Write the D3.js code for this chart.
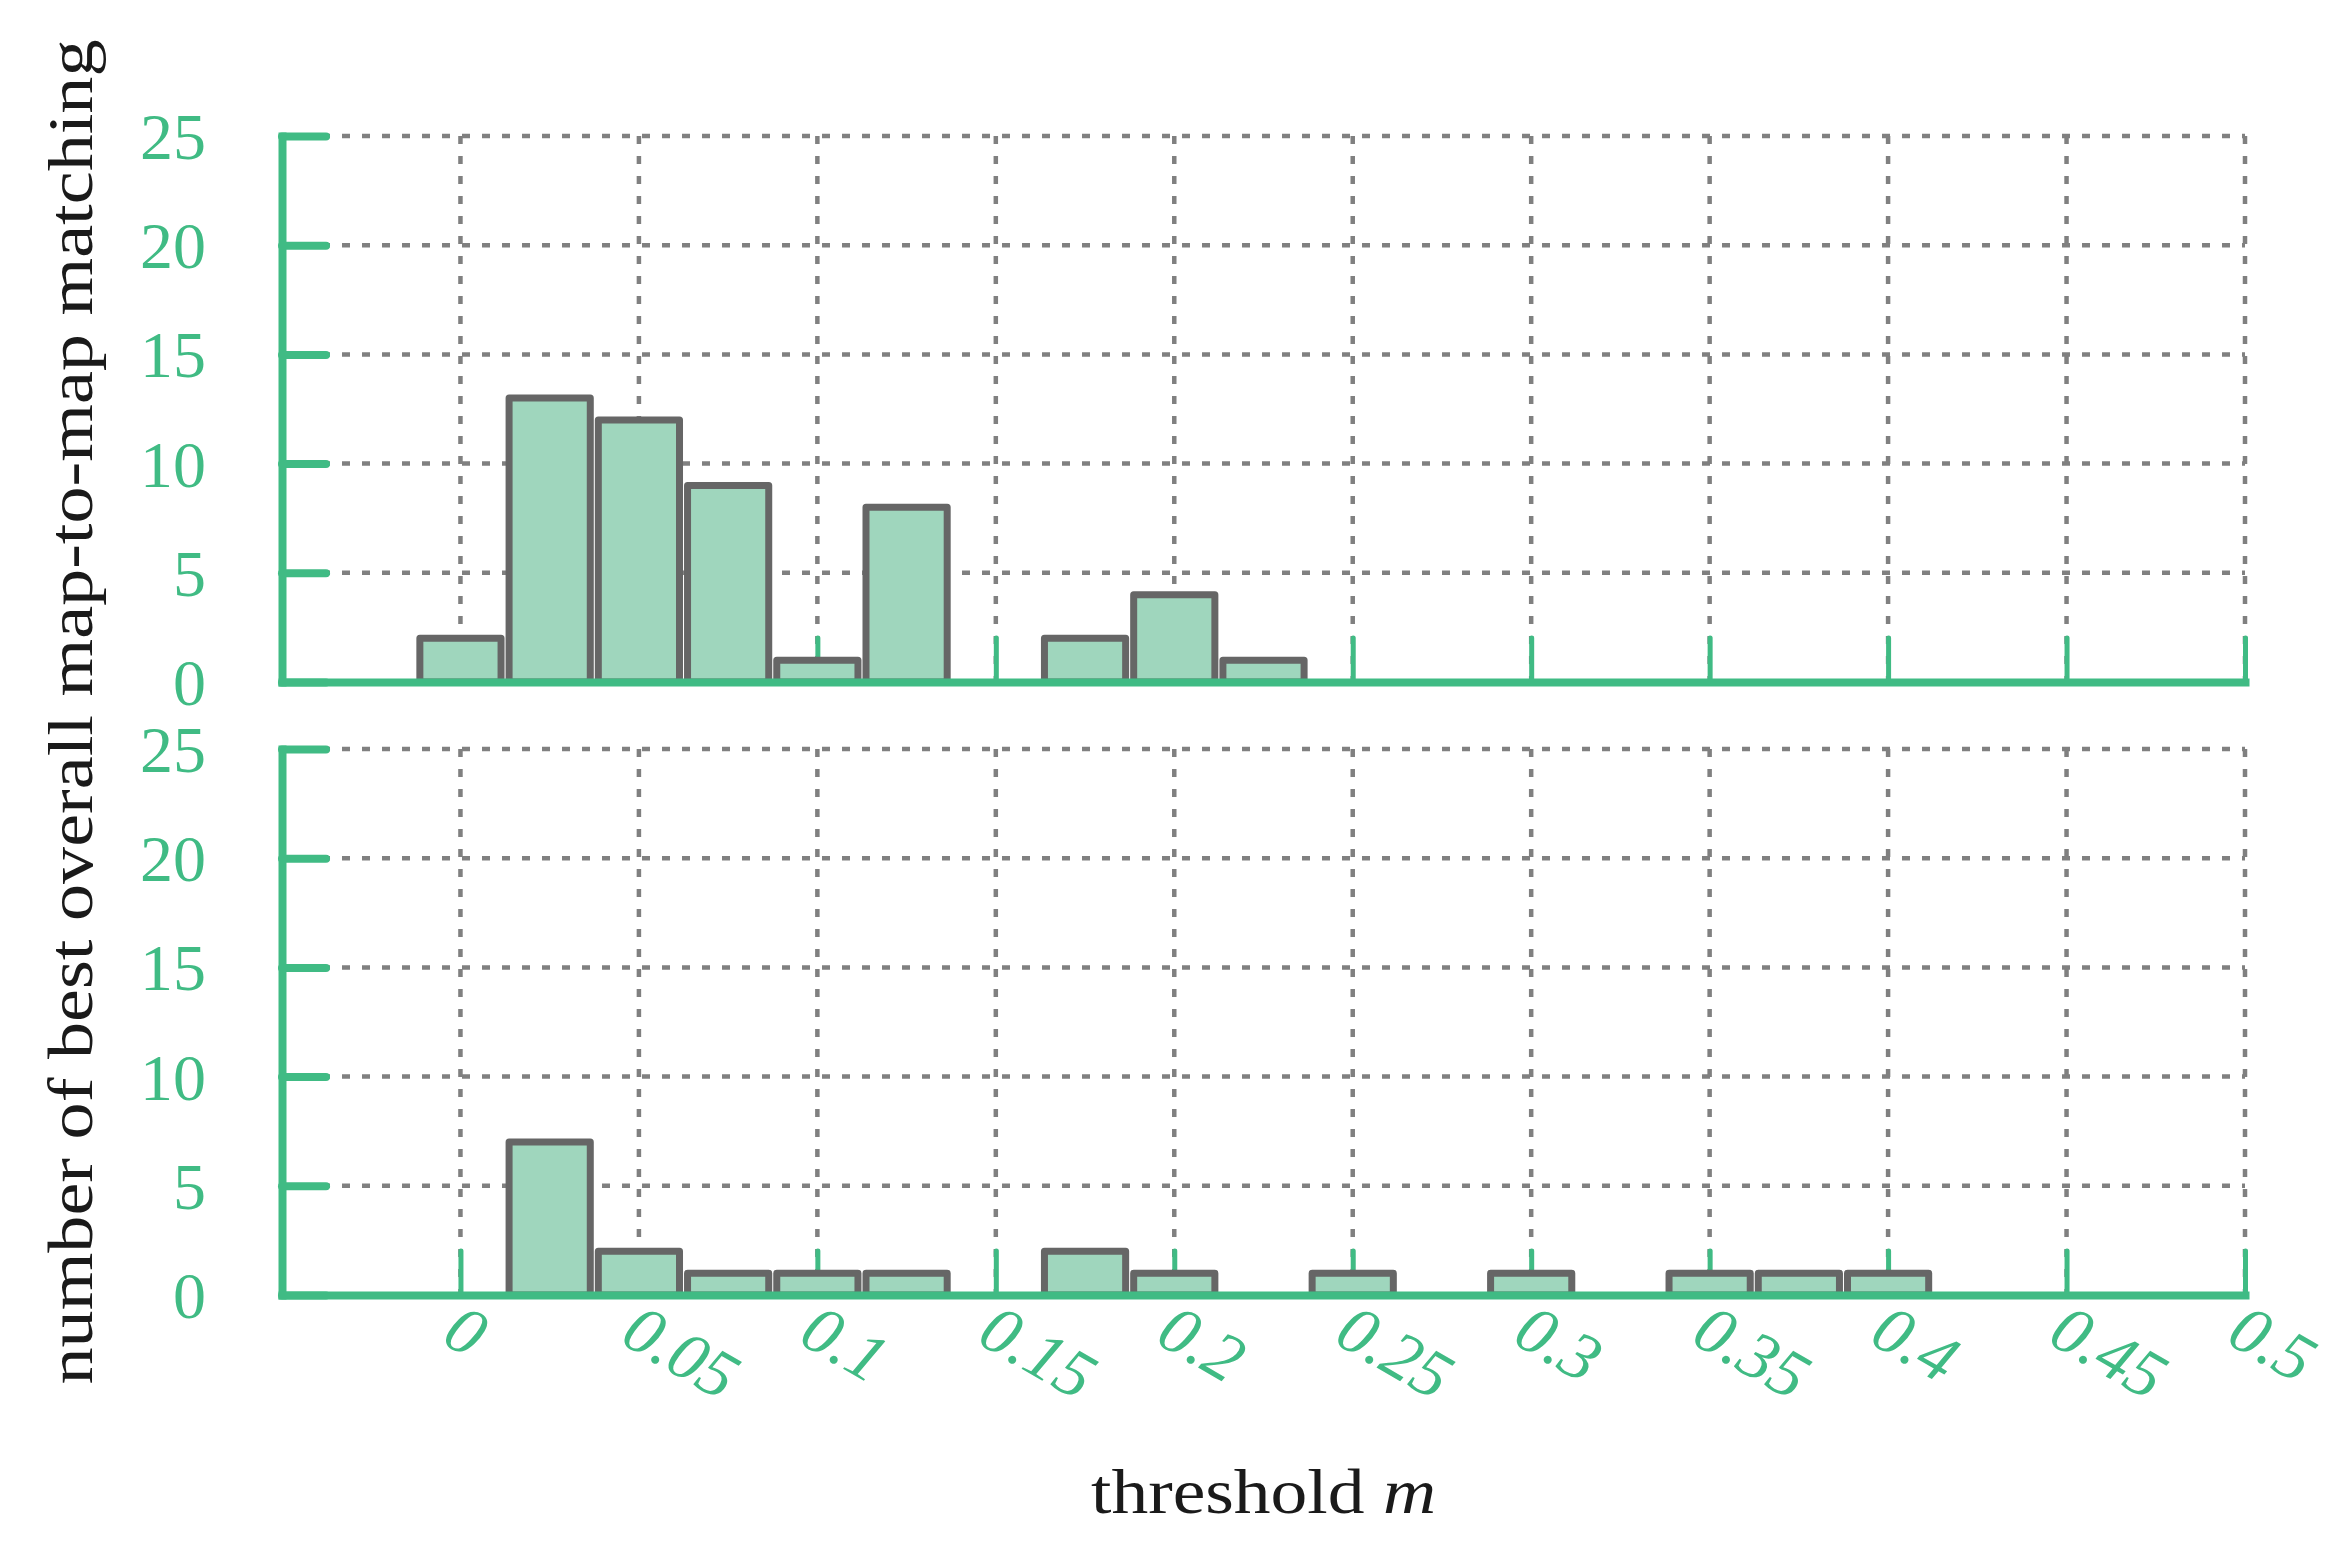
<!DOCTYPE html>
<html>
<head>
<meta charset="utf-8">
<script src="https://cdn.jsdelivr.net/npm/d3@7"></script>
<style>
  html, body { margin: 0; padding: 0; background: #ffffff; }
  svg { display: block; }
</style>
</head>
<body>
<svg id="chart" width="2339" height="1554"></svg>
<script>
// ---- data ----
const binCenters   = [0, 0.025, 0.05, 0.075, 0.1, 0.125, 0.15, 0.175, 0.2, 0.225, 0.25, 0.275, 0.3, 0.325, 0.35, 0.375, 0.4];
const topCounts    = [2, 13, 12, 9, 1, 8, 0, 2, 4, 1, 0, 0, 0, 0, 0, 0, 0];
const bottomCounts = [0, 7, 2, 1, 1, 1, 0, 2, 1, 0, 1, 0, 1, 0, 1, 1, 1];
const xTicks       = [0, 0.05, 0.1, 0.15, 0.2, 0.25, 0.3, 0.35, 0.4, 0.45, 0.5];
const xTickLabels  = ["0", "0.05", "0.1", "0.15", "0.2", "0.25", "0.3", "0.35", "0.4", "0.45", "0.5"];
const yTicks       = [0, 5, 10, 15, 20, 25];
const yTickLabels  = ["0", "5", "10", "15", "20", "25"];
const binWidth = 0.025;
const xTitle = "threshold";
const xTitleVar = "m";
const yTitle = "number of best overall map-to-map matching";

// ---- styles ----
const GREEN = "#40bb84";
const BAR_FILL = "#9fd6bd";
const BAR_STROKE = "#666666";
const GRID = "#808080";
const FONT = "'Liberation Serif', 'Times New Roman', serif";

const svg = d3.select("#chart");
const x = d3.scaleLinear().domain([-0.05, 0.5]).range([282, 2245]);
const panels = [
  { counts: topCounts, y: d3.scaleLinear().domain([0, 25]).range([682, 136]), labels: false },
  { counts: bottomCounts, y: d3.scaleLinear().domain([0, 25]).range([1295, 749]), labels: true }
];

panels.forEach(p => {
  const y = p.y;
  const g = svg.append("g");

  // grid
  const grid = g.append("g").attr("stroke", GRID).attr("stroke-width", 4.5)
    .attr("stroke-dasharray", "8 12").attr("fill", "none");
  grid.selectAll("line.h").data(yTicks.filter(v => v > 0)).join("line")
    .attr("class", "h")
    .attr("x1", x(-0.05)).attr("x2", x(0.5))
    .attr("y1", d => y(d)).attr("y2", d => y(d));
  grid.selectAll("line.v").data(xTicks).join("line")
    .attr("class", "v")
    .attr("x1", d => x(d)).attr("x2", d => x(d))
    .attr("y1", y(25)).attr("y2", y(0));

  // axes ticks (under bars)
  const xAxis = d3.axisBottom(x).tickValues(xTicks).tickSizeInner(-44).tickSizeOuter(0)
    .tickFormat((d, i) => p.labels ? xTickLabels[i] : "");
  const xg = g.append("g").attr("transform", `translate(0,${y(0)})`).call(xAxis);
  xg.select(".domain").remove();
  xg.selectAll(".tick line").attr("stroke", GREEN).attr("stroke-width", 5).attr("stroke-linecap", "round");
  xg.selectAll(".tick text")
    .attr("fill", GREEN)
    .attr("font-family", FONT)
    .attr("font-style", "italic")
    .attr("font-size", 68)
    .attr("text-anchor", "start")
    .attr("x", null).attr("y", null).attr("dy", null)
    .attr("transform", "translate(-21,47) rotate(30)");

  const yAxis = d3.axisLeft(y).tickValues(yTicks).tickSizeInner(-44).tickSizeOuter(0)
    .tickPadding(76).tickFormat((d, i) => yTickLabels[i]);
  const yg = g.append("g").attr("transform", `translate(${x(-0.05)},0)`).call(yAxis);
  yg.select(".domain").remove();
  yg.selectAll(".tick line").attr("stroke", GREEN).attr("stroke-width", 8).attr("stroke-linecap", "round");
  yg.selectAll(".tick text")
    .attr("fill", GREEN)
    .attr("font-family", FONT)
    .attr("font-size", 66)
    .attr("dy", "0.34em");

  // bars
  const barData = binCenters.map((c, i) => ({ c, v: p.counts[i] })).filter(d => d.v > 0);
  const hw = binWidth * 0.91 / 2;
  g.append("g").selectAll("rect").data(barData).join("rect")
    .attr("x", d => x(d.c - hw))
    .attr("width", d => x(d.c + hw) - x(d.c - hw))
    .attr("y", d => y(d.v))
    .attr("height", d => y(0) - y(d.v))
    .attr("fill", BAR_FILL)
    .attr("stroke", BAR_STROKE)
    .attr("stroke-width", 7)
    .attr("stroke-linejoin", "round");

  // axis lines on top
  const xd = g.append("g").attr("transform", `translate(0,${y(0)})`)
    .call(d3.axisBottom(x).tickValues([]).tickSizeOuter(0));
  xd.select(".domain").attr("stroke", GREEN).attr("stroke-width", 8).attr("stroke-linecap", "square");
  const yd = g.append("g").attr("transform", `translate(${x(-0.05)},0)`)
    .call(d3.axisLeft(y).tickValues([]).tickSizeOuter(0));
  yd.select(".domain").attr("stroke", GREEN).attr("stroke-width", 8).attr("stroke-linecap", "square");
});

// titles
const xt = svg.append("text")
  .attr("x", (x(-0.05) + x(0.5)) / 2)
  .attr("y", 1513)
  .attr("text-anchor", "middle")
  .attr("font-family", FONT)
  .attr("font-size", 64)
  .attr("fill", "#1a1a1a")
  .attr("textLength", 345)
  .attr("lengthAdjust", "spacingAndGlyphs");
xt.append("tspan").text(xTitle + " ");
xt.append("tspan").attr("font-style", "italic").text(xTitleVar);

svg.append("text")
  .attr("transform", "translate(92,712) rotate(-90)")
  .attr("text-anchor", "middle")
  .attr("font-family", FONT)
  .attr("font-size", 64)
  .attr("fill", "#1a1a1a")
  .attr("textLength", 1345)
  .attr("lengthAdjust", "spacingAndGlyphs")
  .text(yTitle);
</script>
</body>
</html>
